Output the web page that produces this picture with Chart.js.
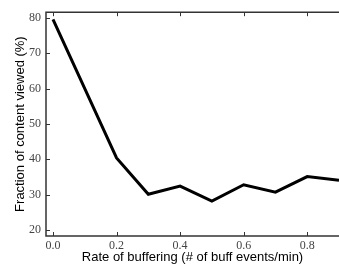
<!DOCTYPE html>
<html>
<head>
<meta charset="utf-8">
<script src="https://cdn.jsdelivr.net/npm/chart.js@4"></script>
<style>
  html, body { margin: 0; padding: 0; background: #fff; }
  canvas { display: block; }
</style>
</head>
<body>
<canvas id="chart" width="339" height="266"></canvas>
<script>
// datos
const rates = [0.0, 0.1, 0.2, 0.3, 0.4, 0.5, 0.6, 0.7, 0.8, 0.9];
const viewed = [79.6, 60.0, 40.4, 30.1, 32.4, 28.2, 32.8, 30.7, 35.1, 34.1];
const xTicks = [0.0, 0.2, 0.4, 0.6, 0.8];
const yTicks = [20, 30, 40, 50, 60, 70, 80];

// marco (sin borde derecho, queda fuera de la imagen) y marcas hacia dentro
const frame = {
    id: 'frame',
    afterDraw(chart) {
        const { ctx, chartArea: a, scales } = chart;
        ctx.save();
        ctx.strokeStyle = '#333';
        ctx.lineWidth = 1.5;
        ctx.beginPath();
        ctx.moveTo(chart.width, a.top);
        ctx.lineTo(a.left, a.top);
        ctx.lineTo(a.left, a.bottom);
        ctx.lineTo(chart.width, a.bottom);
        ctx.stroke();
        ctx.lineWidth = 1;
        ctx.beginPath();
        xTicks.forEach(v => {
            const x = Math.round(scales.x.getPixelForValue(v)) + 0.5;
            ctx.moveTo(x, a.bottom); ctx.lineTo(x, a.bottom - 4);
            ctx.moveTo(x, a.top); ctx.lineTo(x, a.top + 4);
        });
        yTicks.forEach(v => {
            const y = Math.round(scales.y.getPixelForValue(v)) + 0.5;
            ctx.moveTo(a.left, y); ctx.lineTo(a.left + 4, y);
        });
        ctx.stroke();
        ctx.restore();
    }
};

const tickFont = { family: '"Liberation Serif", "DejaVu Serif", serif', size: 12 };
const titleFont = { family: '"Liberation Sans", Arial, sans-serif', size: 13 };

new Chart(document.getElementById('chart').getContext('2d'), {
    type: 'line',
    data: {
        datasets: [{
            data: rates.map((r, i) => ({ x: r, y: viewed[i] })),
            borderColor: '#000',
            borderWidth: 3,
            pointRadius: 0,
            tension: 0,
            fill: false
        }]
    },
    options: {
        responsive: false,
        animation: false,
        layout: { padding: { top: 5, left: 0, right: 0, bottom: 0 } },
        plugins: { legend: { display: false }, tooltip: { enabled: false } },
        scales: {
            x: {
                type: 'linear',
                min: -0.022,
                max: 0.9,
                afterBuildTicks: s => { s.ticks = xTicks.map(v => ({ value: v })); },
                afterFit: s => { s.height = 30; },
                grid: { display: false, drawTicks: false },
                border: { display: false },
                ticks: {
                    font: tickFont,
                    color: '#444',
                    padding: 3,
                    maxRotation: 0,
                    callback: v => v.toFixed(1)
                },
                title: {
                    display: true,
                    text: 'Rate of buffering (# of buff events/min)',
                    font: titleFont,
                    color: '#000',
                    padding: { top: 0, bottom: 1 }
                }
            },
            y: {
                min: 18.3,
                max: 81.6,
                afterBuildTicks: s => { s.ticks = yTicks.map(v => ({ value: v })); },
                afterFit: s => { s.width = 46; },
                grid: { display: false, drawTicks: false },
                border: { display: false },
                ticks: {
                    font: tickFont,
                    color: '#444',
                    padding: 5
                },
                title: {
                    display: true,
                    text: 'Fraction of content viewed (%)',
                    font: titleFont,
                    color: '#000',
                    padding: { top: 13, bottom: 0 }
                }
            }
        }
    },
    plugins: [frame]
});
</script>
</body>
</html>
